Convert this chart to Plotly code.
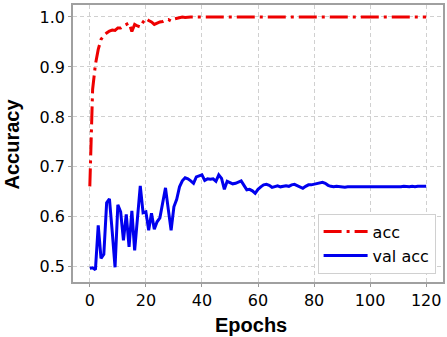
import plotly.graph_objects as go

epochs = list(range(121))

acc = [0.661, 0.855, 0.905, 0.935, 0.955, 0.963, 0.968, 0.972, 0.974, 0.973,
       0.978, 0.978, 0.982, 0.985, 0.988, 0.971, 0.985, 0.982, 0.980, 0.990,
       0.997, 0.993, 0.990, 0.985, 0.988, 0.990, 0.991, 0.994, 0.995, 0.992,
       0.996, 0.997, 0.999, 1.000, 0.999, 1.000, 1.000, 1.000, 1.000, 1.000] + [1.000] * 81

val_acc = [0.497, 0.498, 0.494, 0.583, 0.517, 0.525, 0.628, 0.636, 0.570, 0.499,
           0.624, 0.610, 0.553, 0.605, 0.540, 0.612, 0.533, 0.600, 0.662, 0.608,
           0.610, 0.573, 0.607, 0.575, 0.590, 0.598, 0.625, 0.658, 0.615, 0.573,
           0.620, 0.635, 0.660, 0.672, 0.678, 0.676, 0.672, 0.667, 0.680, 0.682,
           0.684, 0.673, 0.676, 0.675, 0.676, 0.671, 0.684, 0.677, 0.655, 0.671,
           0.668, 0.666, 0.667, 0.670, 0.672, 0.663, 0.654, 0.655, 0.652, 0.647,
           0.655, 0.660, 0.664, 0.665, 0.663, 0.659, 0.661, 0.662, 0.660, 0.661,
           0.662, 0.661, 0.664, 0.665, 0.662, 0.660, 0.657, 0.661, 0.664, 0.664,
           0.665, 0.666, 0.667, 0.669, 0.667, 0.663, 0.661, 0.660, 0.661, 0.660,
           0.660, 0.659, 0.660, 0.660, 0.659, 0.660, 0.660, 0.659, 0.659, 0.660,
           0.660, 0.659, 0.660, 0.660, 0.659, 0.660, 0.659, 0.660, 0.660, 0.659,
           0.660, 0.660, 0.661, 0.660, 0.660, 0.661, 0.660, 0.661, 0.661, 0.661,
           0.661]

x_ticks = [0, 20, 40, 60, 80, 100, 120]
y_ticks = [0.5, 0.6, 0.7, 0.8, 0.9, 1.0]
y_tick_text = ["0.5", "0.6", "0.7", "0.8", "0.9", "1.0"]

fig = go.Figure()
fig.add_trace(go.Scatter(x=epochs, y=acc, mode="lines", name="acc", legendgroup="a",
                         line=dict(color="#ee0000", width=3, dash="18px,5px,3px,5px")))
fig.add_trace(go.Scatter(x=epochs, y=val_acc, mode="lines", name="val acc", legendgroup="b",
                         line=dict(color="#0000ee", width=3)))

tickfont = dict(family="DejaVu Sans", size=16, color="black")
fig.update_layout(
    width=447, height=337,
    margin=dict(l=73, r=2, t=5, b=55),
    paper_bgcolor="white", plot_bgcolor="white",
    showlegend=True,
    legend=dict(x=0.98, y=0.03, xanchor="right", yanchor="bottom",
                bgcolor="white", bordercolor="#d0d0d0", borderwidth=1,
                font=dict(family="DejaVu Sans", size=16, color="black"),
                traceorder="grouped", tracegroupgap=0, itemwidth=44),
    xaxis=dict(range=[-6, 126], tickvals=x_ticks, ticks="outside", ticklen=3,
               tickcolor="#999999", showline=True, linecolor="#a0a0a0", linewidth=1.5,
               mirror=True, showgrid=True, gridcolor="#d0d0d0", griddash="4px,3px",
               gridwidth=1, zeroline=False, tickfont=tickfont),
    yaxis=dict(range=[0.4695, 1.024], tickvals=y_ticks, ticktext=y_tick_text,
               ticks="outside", ticklen=3, tickcolor="#999999", showline=True,
               linecolor="#a0a0a0", linewidth=1.5, mirror=True, showgrid=True,
               gridcolor="#d0d0d0", griddash="4px,3px", gridwidth=1, zeroline=False,
               tickfont=tickfont),
    annotations=[
        dict(text="<b>Epochs</b>", xref="paper", yref="paper", x=0.48, y=-0.11,
             xanchor="center", yanchor="top", showarrow=False,
             font=dict(family="Liberation Sans", size=20, color="black")),
        dict(text="<b>Accuracy</b>", xref="paper", yref="paper", x=-0.165, y=0.5,
             xanchor="center", yanchor="middle", textangle=-90, showarrow=False,
             font=dict(family="Liberation Sans", size=20, color="black")),
    ],
)

fig.write_html("out.html", config={"displayModeBar": False})
with open("out.html", "r", encoding="utf-8") as f:
    html = f.read()
html = html.replace("<head>", "<head><style>html,body{margin:0;padding:0;overflow:hidden;}</style>", 1)
with open("out.html", "w", encoding="utf-8") as f:
    f.write(html)
